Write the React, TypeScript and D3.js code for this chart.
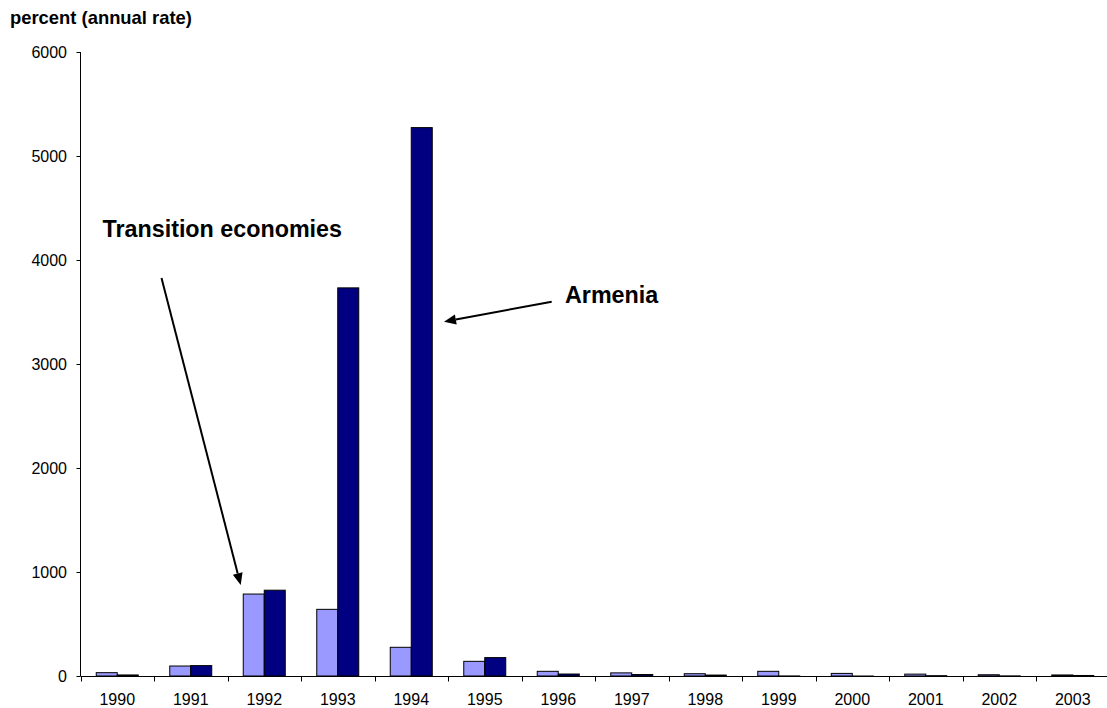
import React from "react";
import * as d3 from "d3";

// Consumer price inflation, percent per year
const years = ["1990", "1991", "1992", "1993", "1994", "1995", "1996", "1997", "1998", "1999", "2000", "2001", "2002", "2003"];
const transitionEconomies = [32, 96, 788, 641, 276, 141, 45, 30, 22, 45, 25, 18, 12, 10];
const armenia = [10, 100, 825, 3732, 5273, 177, 19, 14, 9, 0.6, -0.8, 3, 1, 5];
const yTicks = [0, 1000, 2000, 3000, 4000, 5000, 6000];

const seriesColors = ["#9999FF", "#000080"];
const FONT = "'Liberation Sans', Arial, sans-serif";

const W = 1107;
const H = 708;

function Arrow({ x1, y1, x2, y2 }: { x1: number; y1: number; x2: number; y2: number }) {
  const ang = Math.atan2(y2 - y1, x2 - x1);
  const len = 12;
  const half = 5;
  const bx = x2 - len * Math.cos(ang);
  const by = y2 - len * Math.sin(ang);
  const px = -Math.sin(ang) * half;
  const py = Math.cos(ang) * half;
  return (
    <g>
      <line x1={x1} y1={y1} x2={bx} y2={by} stroke="#000" strokeWidth={2} />
      <path d={`M${x2},${y2}L${bx + px},${by + py}L${bx - px},${by - py}Z`} fill="#000" />
    </g>
  );
}

export default function App() {
  const x = d3.scaleBand<string>().domain(years).range([80.5, 1109.5]).padding(0);
  const y = d3.scaleLinear().domain([0, 6000]).range([676, 52]);
  const step = x.step();
  // two bars per category with a 150% gap width
  const barW = step / 3.5;
  const groupOffset = barW * 0.75;
  const series = [transitionEconomies, armenia];

  return (
    <svg
      width={W}
      height={H}
      style={{ position: "absolute", left: 0, top: 0, background: "#fff" }}
      fontFamily={FONT}
    >
      <rect width={W} height={H} fill="#fff" />
      <text x={10} y={24} fontSize={18.4} fontWeight="bold" fill="#000">
        percent (annual rate)
      </text>

      {/* bars */}
      {series.map((vals, si) =>
        vals.map((v, i) => {
          const x0 = (x(years[i]) as number) + groupOffset + si * barW;
          const top = y(Math.max(v, 0));
          const bottom = y(Math.min(v, 0));
          return (
            <rect
              key={`${si}-${i}`}
              x={x0}
              y={top}
              width={barW}
              height={Math.max(bottom - top, 0)}
              fill={seriesColors[si]}
              stroke="#000"
              strokeWidth={1}
            />
          );
        })
      )}

      {/* y axis */}
      <line x1={80.5} y1={y(6000)} x2={80.5} y2={y(0)} stroke="#000" strokeWidth={1} />
      {yTicks.map((t) => (
        <g key={t}>
          <line x1={76.5} x2={80.5} y1={Math.round(y(t)) + 0.5} y2={Math.round(y(t)) + 0.5} stroke="#000" />
          <text x={67} y={y(t)} dy="0.35em" textAnchor="end" fontSize={16} fill="#000">
            {d3.format("d")(t)}
          </text>
        </g>
      ))}

      {/* x axis */}
      <line x1={80.5} x2={1109.5} y1={676.5} y2={676.5} stroke="#000" strokeWidth={1} />
      {d3.range(years.length + 1).map((i) => {
        const xt = Math.round(80.5 + i * step) + 0.5;
        return <line key={i} x1={xt} x2={xt} y1={676.5} y2={681.5} stroke="#000" />;
      })}
      {years.map((yr) => (
        <text
          key={yr}
          x={(x(yr) as number) + step / 2}
          y={705}
          textAnchor="middle"
          fontSize={16}
          fill="#000"
        >
          {yr}
        </text>
      ))}

      {/* annotations */}
      <text x={102.5} y={236.5} fontSize={23.3} fontWeight="bold" fill="#000">
        Transition economies
      </text>
      <Arrow x1={161.5} y1={278} x2={240.7} y2={585} />
      <text x={565} y={303.3} fontSize={23.3} fontWeight="bold" fill="#000">
        Armenia
      </text>
      <Arrow x1={551.7} y1={301.7} x2={444} y2={321.7} />
    </svg>
  );
}
